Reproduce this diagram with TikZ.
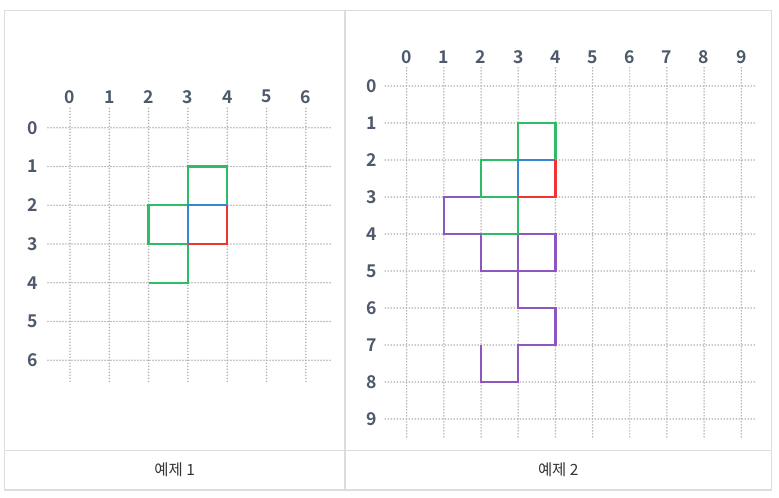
\documentclass[tikz,border=0pt]{standalone}
\usepackage{fontspec}
\setmainfont{Noto Sans}
\newfontfamily\kor{Noto Sans CJK KR}
\newfontfamily\numfont{Noto Sans CJK KR Bold}

\definecolor{gridgray}{RGB}{178,178,178}
\definecolor{labelgray}{RGB}{78,90,108}
\definecolor{tableline}{RGB}{220,220,220}
\definecolor{captext}{RGB}{51,51,51}
\definecolor{curvegreen}{RGB}{46,189,102}
\definecolor{curveblue}{RGB}{52,136,214}
\definecolor{curvered}{RGB}{240,52,52}
\definecolor{curvepurple}{RGB}{142,86,192}

\tikzset{
  gridline/.style={gridgray, line width=1.3pt, line cap=round, dash pattern=on 0pt off 2.25pt},
  numlabel/.style={labelgray, font=\numfont\fontsize{13.2}{15}\selectfont, inner sep=0pt},
  caplabel/.style={captext, font=\kor\fontsize{11.6}{13}\selectfont, inner sep=0pt},
  curve/.style={line width=1.7pt, line join=miter}
}

\begin{document}
\begin{tikzpicture}[x=0.75pt, y=-0.75pt]
  \useasboundingbox (0,0) rectangle (779,497);

  % table frame
  \draw[tableline, line width=1pt] (4.5,10.5) rectangle (771.5,490);
  \draw[tableline, line width=1pt] (345,10.5) -- (345,490);
  \draw[tableline, line width=1pt] (4.5,450.5) -- (771.5,450.5);

  % captions
  \node[caplabel] (cap1) at (174.75,470) {예제 1};
  \node[caplabel] (cap2) at (558.25,470) {예제 2};

  % example 1 (7x7)
  \begin{scope}[shift={(70,127.7)}, x=29.48pt, y=-29.06pt]
    \foreach \i in {0,...,6} {
      \draw[gridline] (\i,-0.5) -- (\i,6.55);
      \node[numlabel] (lcol\i) at (\i,-0.8) {\i};
      \draw[gridline] (-0.56,\i) -- (6.68,\i);
      \node[numlabel] (lrow\i) at (-0.94,\i) {\i};
    }
    \draw[curve, curvegreen] (2,4) -- (3,4) -- (3,3) -- (2,3) -- (2,2) -- (3,2) -- (3,1) -- (4,1) -- (4,2);
    \draw[curve, curveblue] (3,3) -- (3,2) -- (4,2);
    \draw[curve, curvered] (4,2) -- (4,3) -- (3,3);
  \end{scope}

  % example 2 (10x10)
  \begin{scope}[shift={(406.7,86)}, x=27.88pt, y=-27.75pt]
    \foreach \i in {0,...,9} {
      \draw[gridline] (\i,-0.49) -- (\i,9.55);
      \node[numlabel] (rcol\i) at (\i,-0.77) {\i};
      \draw[gridline] (-0.58,\i) -- (9.42,\i);
      \node[numlabel] (rrow\i) at (-0.94,\i) {\i};
    }
    \draw[curve, curvepurple] (2,7) -- (2,8) -- (3,8) -- (3,7) -- (4,7) -- (4,6) -- (3,6) -- (3,5) -- (4,5) -- (4,4) -- (3,4) -- (3,5) -- (2,5) -- (2,4) -- (1,4) -- (1,3) -- (2,3);
    \draw[curve, curvegreen] (2,4) -- (3,4) -- (3,3) -- (2,3) -- (2,2) -- (3,2) -- (3,1) -- (4,1) -- (4,2);
    \draw[curve, curveblue] (3,3) -- (3,2) -- (4,2);
    \draw[curve, curvered] (4,2) -- (4,3) -- (3,3);
  \end{scope}
\end{tikzpicture}
\end{document}
